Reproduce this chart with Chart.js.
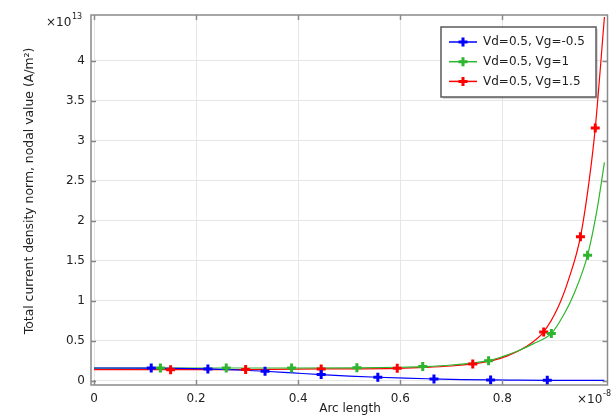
<!DOCTYPE html>
<html>
<head>
<meta charset="utf-8">
<script src="https://cdn.jsdelivr.net/npm/chart.js@4/dist/chart.umd.min.js"></script>
<style>
  body { margin: 0; background: #fff; }
  #wrap { width: 615px; height: 416px; position: relative; }
</style>
</head>
<body>
<div id="wrap"><canvas id="plot"></canvas></div>
<script>
// axis ticks (x in 1e-8, y in 1e13)
const xTicks = [0, 0.2, 0.4, 0.6, 0.8];
const yTicks = [0, 0.5, 1, 1.5, 2, 2.5, 3, 3.5, 4];
const seriesNames = ['Vd=0.5, Vg=-0.5', 'Vd=0.5, Vg=1', 'Vd=0.5, Vg=1.5'];
const seriesColors = ['#0000ff', '#2db52d', '#ff0000'];

// Vg=-0.5 curve + markers
const blueCurveX = [0, 0.112, 0.223, 0.28, 0.335, 0.39, 0.445, 0.5, 0.556, 0.61, 0.666, 0.72, 0.777, 0.83, 0.888, 0.94, 1.0];
const blueCurveY = [0.158, 0.157, 0.146, 0.133, 0.117, 0.096, 0.075, 0.057, 0.042, 0.030, 0.021, 0.013, 0.008, 0.006, 0.004, 0.003, 0.002];
const blueMarkX = [0.112, 0.223, 0.335, 0.445, 0.556, 0.666, 0.777, 0.888];
const blueMarkY = [0.158, 0.146, 0.117, 0.075, 0.042, 0.021, 0.008, 0.004];

// Vg=1
const greenCurveX = [0, 0.13, 0.259, 0.387, 0.515, 0.60, 0.644, 0.70, 0.773, 0.80, 0.83, 0.86, 0.896, 0.92, 0.94, 0.967, 0.985, 1.0];
const greenCurveY = [0.155, 0.158, 0.158, 0.158, 0.160, 0.167, 0.175, 0.195, 0.25, 0.30, 0.37, 0.46, 0.59, 0.82, 1.08, 1.57, 2.12, 2.73];
const greenMarkX = [0.130, 0.259, 0.387, 0.515, 0.644, 0.773, 0.896, 0.967];
const greenMarkY = [0.158, 0.158, 0.158, 0.160, 0.175, 0.25, 0.59, 1.57];

// Vg=1.5
const redCurveX = [0, 0.15, 0.297, 0.445, 0.594, 0.65, 0.70, 0.742, 0.78, 0.81, 0.845, 0.881, 0.91, 0.93, 0.953, 0.97, 0.982, 1.0];
const redCurveY = [0.137, 0.137, 0.138, 0.146, 0.154, 0.165, 0.183, 0.209, 0.25, 0.31, 0.42, 0.61, 0.93, 1.27, 1.80, 2.50, 3.16, 4.55];
const redMarkX = [0.150, 0.297, 0.445, 0.594, 0.742, 0.881, 0.953, 0.982];
const redMarkY = [0.137, 0.138, 0.146, 0.154, 0.209, 0.609, 1.80, 3.16];

const FONT = 'DejaVu Sans';
const TEXT = '#222';

function pts(xs, ys) {
    return xs.map((x, i) => ({ x: x, y: ys[i] }));
}

function lineSet(xs, ys, color) {
    return {
        data: pts(xs, ys),
        showLine: true,
        borderColor: color,
        borderWidth: 1.2,
        pointRadius: 0,
        cubicInterpolationMode: 'monotone',
        fill: false
    };
}

function markSet(xs, ys, color) {
    return {
        data: pts(xs, ys),
        showLine: false,
        borderColor: color,
        backgroundColor: color,
        pointStyle: 'cross',
        pointRadius: 4.5,
        pointBorderWidth: 3
    };
}

function drawCross(ctx, x, y, color) {
    ctx.save();
    ctx.strokeStyle = color;
    ctx.lineWidth = 3;
    ctx.beginPath();
    ctx.moveTo(x - 4.5, y); ctx.lineTo(x + 4.5, y);
    ctx.moveTo(x, y - 4.5); ctx.lineTo(x, y + 4.5);
    ctx.stroke();
    ctx.restore();
}

// frame, inner ticks, exponent labels, axis titles, legend box
const decorations = {
    id: 'decorations',
    afterDraw(chart) {
        const ctx = chart.ctx;
        const a = chart.chartArea;
        const xs = chart.scales.x, ys = chart.scales.y;

        ctx.save();
        ctx.strokeStyle = '#8a8a8a';
        ctx.lineWidth = 1.5;
        ctx.strokeRect(a.left, a.top, a.right - a.left, a.bottom - a.top);
        ctx.beginPath();
        xTicks.forEach(v => {
            const px = Math.round(xs.getPixelForValue(v)) + 0.5;
            ctx.moveTo(px, a.bottom); ctx.lineTo(px, a.bottom - 5);
            ctx.moveTo(px, a.top); ctx.lineTo(px, a.top + 5);
        });
        yTicks.forEach(v => {
            const py = Math.round(ys.getPixelForValue(v)) + 0.5;
            ctx.moveTo(a.left, py); ctx.lineTo(a.left + 5, py);
            ctx.moveTo(a.right, py); ctx.lineTo(a.right - 5, py);
        });
        ctx.stroke();

        // exponents
        ctx.fillStyle = TEXT;
        ctx.textBaseline = 'alphabetic';
        ctx.textAlign = 'left';
        ctx.font = '12px ' + FONT;
        ctx.fillText('\u00d710', 46, 26);
        ctx.fillText('\u00d710', 577, 403);
        ctx.font = '8px ' + FONT;
        ctx.fillText('13', 72, 19);
        ctx.fillText('-8', 603, 396);

        // axis titles
        ctx.font = '12px ' + FONT;
        ctx.textAlign = 'center';
        ctx.textBaseline = 'middle';
        ctx.fillText('Arc length', 350, 409);
        ctx.save();
        ctx.translate(30, 191);
        ctx.rotate(-Math.PI / 2);
        ctx.font = '12.4px ' + FONT;
        ctx.fillText('Total current density norm, nodal value (A/m\u00b2)', 0, 0);
        ctx.restore();

        // legend
        const lx = 441, ly = 27, lw = 155, lh = 70;
        ctx.fillStyle = 'rgba(0,0,0,0.15)';
        ctx.fillRect(lx + 2, ly + 2, lw, lh);
        ctx.fillStyle = '#fff';
        ctx.fillRect(lx, ly, lw, lh);
        ctx.strokeStyle = '#5a5a5a';
        ctx.lineWidth = 1.5;
        ctx.strokeRect(lx, ly, lw, lh);
        ctx.font = '12px ' + FONT;
        ctx.textAlign = 'left';
        seriesNames.forEach((name, i) => {
            const ry = 42 + i * 19.7;
            ctx.strokeStyle = seriesColors[i];
            ctx.lineWidth = 1.5;
            ctx.beginPath();
            ctx.moveTo(449, ry); ctx.lineTo(477, ry);
            ctx.stroke();
            drawCross(ctx, 463, ry, seriesColors[i]);
            ctx.fillStyle = TEXT;
            ctx.fillText(name, 483, ry);
        });
        ctx.restore();
    }
};

new Chart(document.getElementById('plot').getContext('2d'), {
    type: 'scatter',
    data: {
        datasets: [
            markSet(blueMarkX, blueMarkY, seriesColors[0]),
            markSet(greenMarkX, greenMarkY, seriesColors[1]),
            markSet(redMarkX, redMarkY, seriesColors[2]),
            lineSet(blueCurveX, blueCurveY, seriesColors[0]),
            lineSet(greenCurveX, greenCurveY, seriesColors[1]),
            lineSet(redCurveX, redCurveY, seriesColors[2])
        ]
    },
    options: {
        responsive: true,
        maintainAspectRatio: false,
        animation: false,
        layout: { padding: { left: 0, right: 7, top: 15, bottom: 0 } },
        plugins: {
            legend: { display: false },
            tooltip: { enabled: false }
        },
        scales: {
            x: {
                type: 'linear',
                min: -0.006,
                max: 1.006,
                afterBuildTicks: s => { s.ticks = xTicks.map(v => ({ value: v })); },
                afterFit: s => { s.height = 31; },
                ticks: {
                    color: TEXT,
                    font: { family: FONT, size: 12 },
                    padding: 7,
                    maxRotation: 0,
                    autoSkip: false,
                    callback: v => String(v)
                },
                grid: { color: '#e6e6e6', drawTicks: false },
                border: { display: false }
            },
            y: {
                min: -0.055,
                max: 4.575,
                afterBuildTicks: s => { s.ticks = yTicks.map(v => ({ value: v })); },
                afterFit: s => { s.width = 91; },
                ticks: {
                    color: TEXT,
                    font: { family: FONT, size: 12 },
                    padding: 6,
                    autoSkip: false,
                    callback: v => String(v)
                },
                grid: { color: '#e6e6e6', drawTicks: false },
                border: { display: false }
            }
        }
    },
    plugins: [decorations]
});
</script>
</body>
</html>
